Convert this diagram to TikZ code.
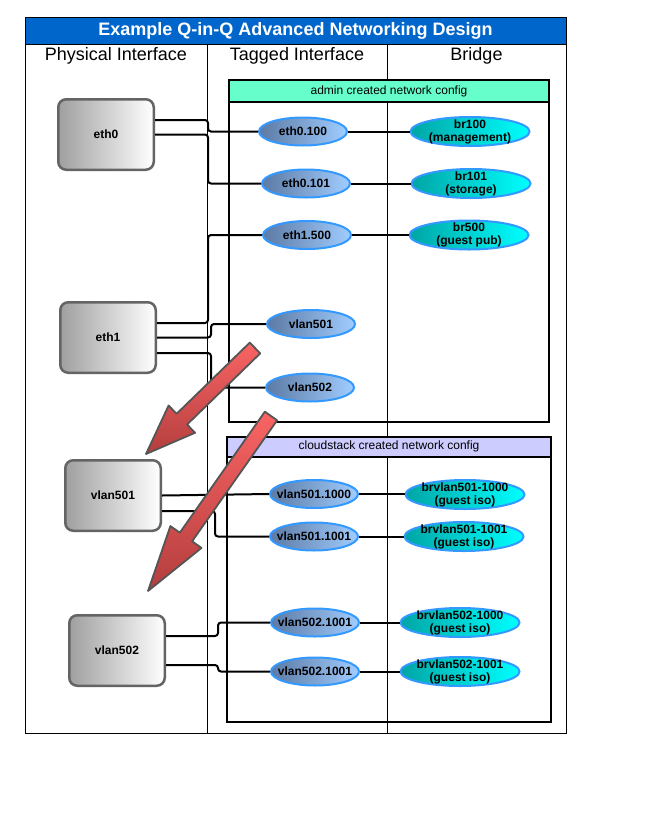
\documentclass[tikz,border=0pt]{standalone}
\usepackage{fontspec}
\setmainfont{Liberation Sans}
\usetikzlibrary{shapes.geometric,calc}
\definecolor{titleblue}{RGB}{0,102,204}
\definecolor{admingreen}{RGB}{102,255,204}
\definecolor{cslav}{RGB}{204,204,255}
\definecolor{ellborder}{RGB}{51,153,255}
\definecolor{tagL}{RGB}{92,122,165}
\definecolor{tagR}{RGB}{160,205,255}
\definecolor{brL}{RGB}{0,165,165}
\definecolor{brR}{RGB}{0,255,255}
\definecolor{physborder}{RGB}{100,100,100}
\definecolor{arrowL}{RGB}{250,100,100}
\definecolor{arrowD}{RGB}{180,62,62}
\definecolor{arrowedge}{RGB}{85,85,85}
% #1 tail, #2 tip, #3 half shaft, #4 half head width, #5 head length, #6 base coordinate name
\newcommand{\myblockarrow}[6]{%
  \coordinate (#6) at ($(#2)!#5!(#1)$);
  \begin{scope}[xshift=2pt,yshift=-2pt]
    \fill[black!55] ($(#1)!#3!90:(#2)$) -- ($(#6)!#3!90:(#2)$) -- ($(#6)!#4!90:(#2)$) -- (#2) -- ($(#6)!#4!-90:(#2)$) -- ($(#6)!#3!-90:(#2)$) -- ($(#1)!#3!-90:(#2)$) -- cycle;
  \end{scope}
  \draw[arrowedge, line width=1.8pt, line join=round, top color=arrowL, bottom color=arrowD]
    ($(#1)!#3!90:(#2)$) -- ($(#6)!#3!90:(#2)$) -- ($(#6)!#4!90:(#2)$) -- (#2) -- ($(#6)!#4!-90:(#2)$) -- ($(#6)!#3!-90:(#2)$) -- ($(#1)!#3!-90:(#2)$) -- cycle;}
\begin{document}
\begin{tikzpicture}[x=1pt,y=-1pt,
  phys/.style={draw=physborder, line width=2.5pt, rounded corners=8pt, left color=gray!75, right color=white, minimum width=95.5pt, minimum height=70.5pt, font=\fontsize{12}{14}\selectfont\bfseries, inner sep=0},
  tag/.style={ellipse, draw=ellborder, line width=2pt, left color=tagL, right color=tagR, minimum width=88pt, minimum height=28pt, inner sep=-12pt, font=\fontsize{12}{13}\selectfont\bfseries},
  bridge/.style={ellipse, draw=ellborder, line width=2pt, left color=brL, right color=brR, minimum width=119pt, minimum height=29pt, inner sep=-12pt, align=center, font=\fontsize{12}{13}\selectfont\bfseries},
  conn/.style={line width=2pt, rounded corners=3pt},
  colhead/.style={font=\fontsize{18}{20}\selectfont},
  boxhead/.style={font=\fontsize{12}{14}\selectfont},
  thin/.style={line width=0.9pt}]
\useasboundingbox[fill=white] (0,0) rectangle (665,833);
% table
\draw[thin] (207,44) -- (207,733);
\draw[thin] (387,44) -- (387,733);
\filldraw[thin, fill=titleblue] (25,17) rectangle (566,44);
\draw[thin] (25,17) rectangle (566,733);
\node[font=\fontsize{18}{20}\selectfont\bfseries, text=white] (title) at (295.5,30.5) {Example Q-in-Q Advanced Networking Design};
\node[colhead] (hphys) at (116,56) {Physical Interface};
\node[colhead] (htag) at (297,56) {Tagged Interface};
\node[colhead] (hbr) at (476.5,56) {Bridge};
% admin box
\draw[line width=2pt] (229,80) rectangle (549,422);
\filldraw[line width=2pt, fill=admingreen] (229,80) rectangle (549,102);
\node[boxhead] (adminlbl) at (389,91) {admin created network config};
% cloudstack box
\draw[line width=2pt] (227,437) rectangle (551,722);
\filldraw[line width=2pt, fill=cslav] (227,437) rectangle (551,457);
\node[boxhead] (cslbl) at (389,446.5) {cloudstack created network config};
% physical
\node[phys] (eth0) at (106,134.5) {eth0};
\node[phys] (eth1) at (108,337.5) {eth1};
\node[phys] (pv501) at (113,495.5) {vlan501};
\node[phys] (pv502) at (117,650.5) {vlan502};
% tagged
\node[tag] (e0100) at (303,131.5) {eth0.100};
\node[tag] (e0101) at (306,183.5) {eth0.101};
\node[tag] (e1500) at (307,235) {eth1.500};
\node[tag] (v501) at (311,324) {vlan501};
\node[tag] (v502) at (310,387.5) {vlan502};
\node[tag] (v5011000) at (314,494) {vlan501.1000};
\node[tag] (v5011001) at (314,536.5) {vlan501.1001};
\node[tag] (v5021001a) at (315,622.5) {vlan502.1001};
\node[tag] (v5021001b) at (315,671.5) {vlan502.1001};
% bridges
\node[bridge] (br100) at (470,131.5) {br100\\(management)};
\node[bridge] (br101) at (471,183.5) {br101\\(storage)};
\node[bridge] (br500) at (469,235) {br500\\(guest pub)};
\node[bridge] (bv5011000) at (465,494.5) {brvlan501-1000\\(guest iso)};
\node[bridge] (bv5011001) at (464,536.5) {brvlan501-1001\\(guest iso)};
\node[bridge] (bv5021000) at (460,622.5) {brvlan502-1000\\(guest iso)};
\node[bridge] (bv5021001) at (460,671.5) {brvlan502-1001\\(guest iso)};
% bend columns
\coordinate (bxA) at (208,0);
\coordinate (bxB) at (211,0);
\coordinate (bxC) at (215,0);
\coordinate (bxD) at (218,0);
% ports
\coordinate (eth0a) at ([yshift=14.5pt]eth0.east);
\coordinate (eth0b) at (eth0.east);
\coordinate (eth1a) at ([yshift=14.5pt]eth1.east);
\coordinate (eth1b) at (eth1.east);
\coordinate (eth1c) at ([yshift=-15.5pt]eth1.east);
\coordinate (pv501a) at (pv501.east);
\coordinate (pv501b) at ([yshift=-15.5pt]pv501.east);
\coordinate (pv502a) at ([yshift=14.5pt]pv502.east);
\coordinate (pv502b) at ([yshift=-14.5pt]pv502.east);
% connectors
\draw[conn] (eth0a) -- (eth0a -| bxA) |- (e0100.west);
\draw[conn] (eth0b) -- (eth0b -| bxA) |- (e0101.west);
\draw[conn] (eth1a) -- (eth1a -| bxA) |- (e1500.west);
\draw[conn] (eth1b) -- (eth1b -| bxB) |- (v501.west);
\draw[conn] (eth1c) -- (eth1c -| bxB) |- (v502.west);
\draw[conn] (pv501a) -- (v5011000.west);
\draw[conn] (pv501b) -- (pv501b -| bxC) |- (v5011001.west);
\draw[conn] (pv502a) -- (pv502a -| bxD) |- (v5021001a.west);
\draw[conn] (pv502b) -- (pv502b -| bxD) |- (v5021001b.west);
\draw[conn] (e0100.east) -- (e0100.east -| br100.west);
\draw[conn] (e0101.east) -- (e0101.east -| br101.west);
\draw[conn] (e1500.east) -- (e1500.east -| br500.west);
\draw[conn] (v5011000.east) -- (v5011000.east -| bv5011000.west);
\draw[conn] (v5011001.east) -- (v5011001.east -| bv5011001.west);
\draw[conn] (v5021001a.east) -- (v5021001a.east -| bv5021000.west);
\draw[conn] (v5021001b.east) -- (v5021001b.east -| bv5021001.west);
% red block arrows
\coordinate (a1tail) at (255,348);
\coordinate (a1tip) at (146,454);
\coordinate (a2tail) at (271,416);
\coordinate (a2tip) at (148,591);
\myblockarrow{a1tail}{a1tip}{7.5pt}{19pt}{50pt}{a1base}
\myblockarrow{a2tail}{a2tip}{7.5pt}{19pt}{66pt}{a2base}
\end{tikzpicture}
\end{document}
